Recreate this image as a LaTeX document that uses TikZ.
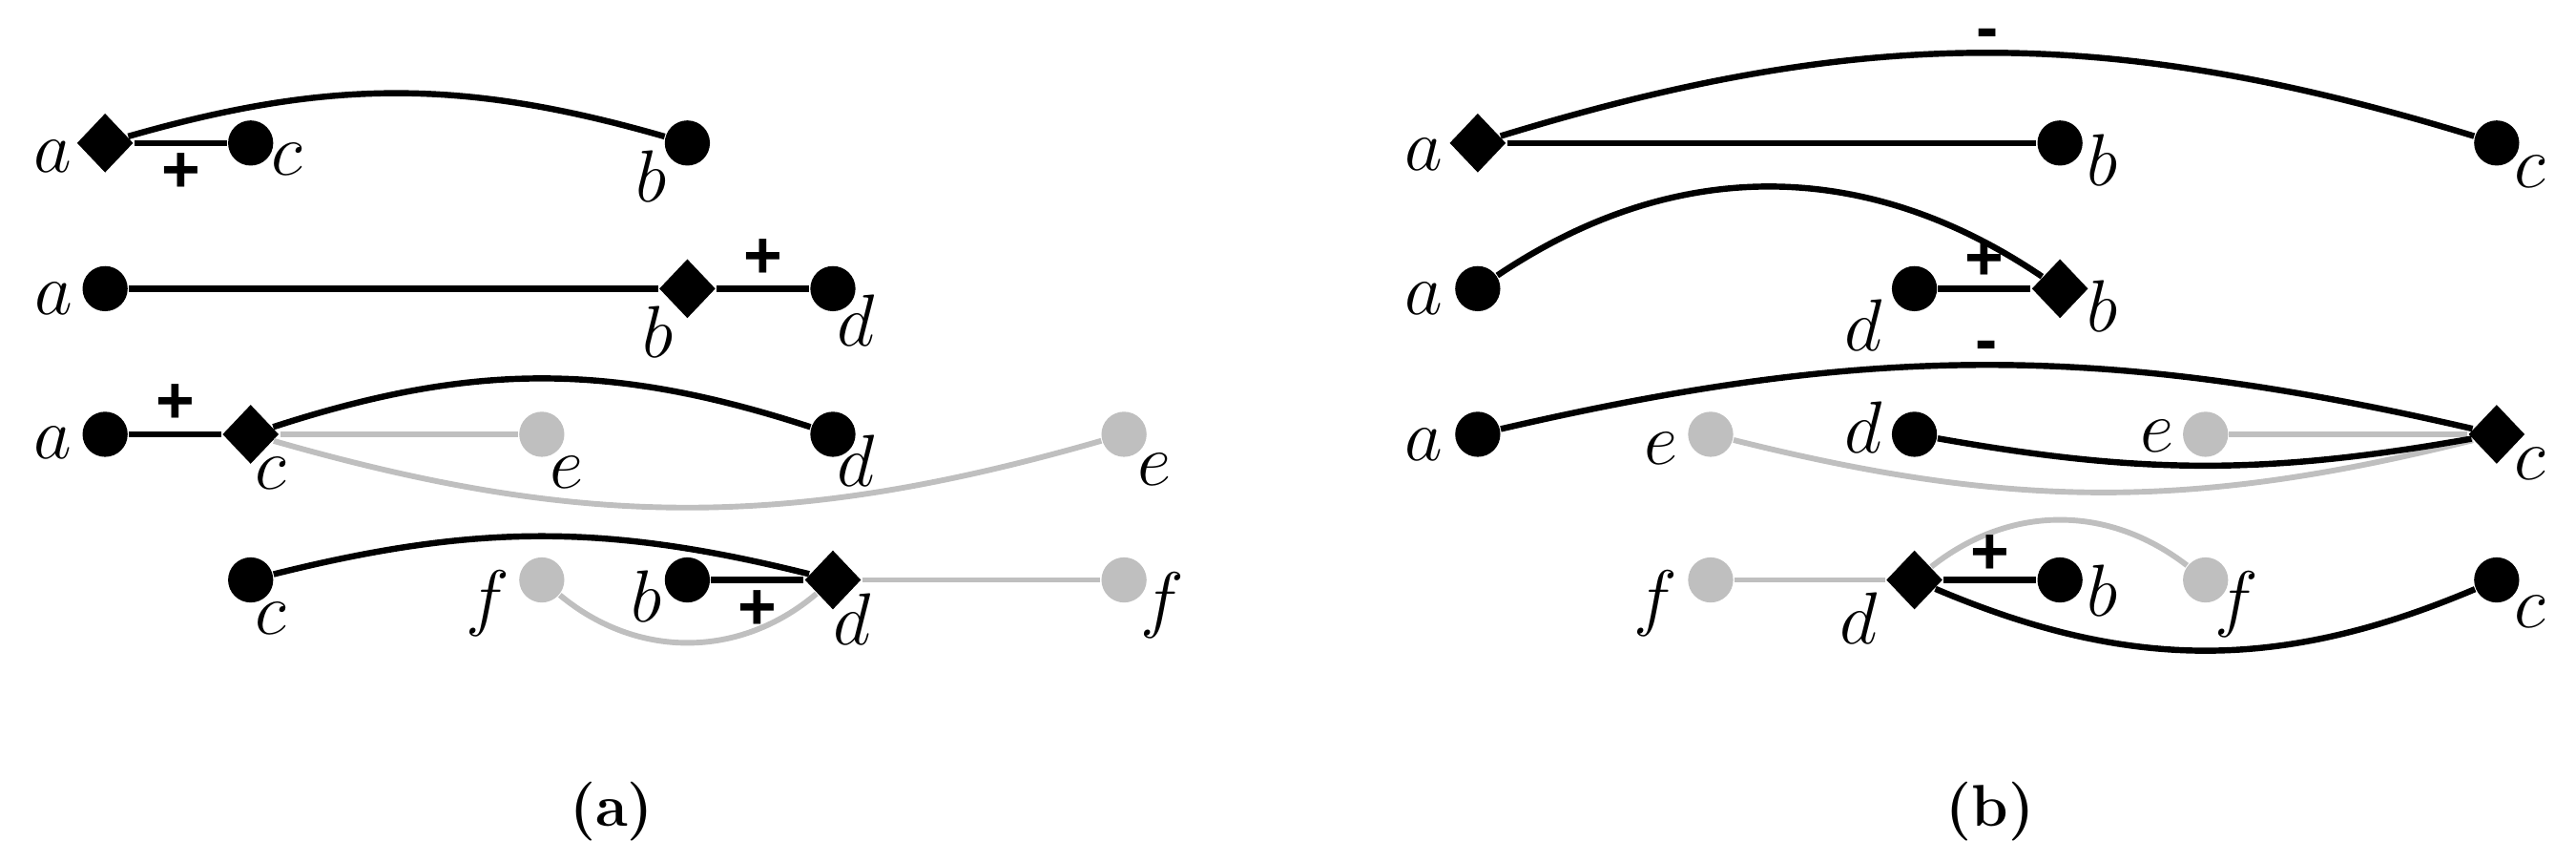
\documentclass[tikz,border=0pt]{standalone}
\usepackage{fontspec}
\newfontfamily\signfont{Liberation Sans}
\usetikzlibrary{shapes.geometric,calc}
\definecolor{ghost}{RGB}{191,191,191}
\tikzset{
  vtx/.style={circle,fill=black,inner sep=0pt,minimum size=0.31cm},
  gvtx/.style={vtx,fill=ghost},
  hub/.style={diamond,fill=black,inner sep=0pt,minimum width=0.39cm,minimum height=0.41cm},
  lab/.style={inner sep=0pt,font=\fontsize{15}{18}\selectfont},
  pm/.style={inner sep=0pt,font=\signfont\bfseries\fontsize{13}{15}\selectfont},
  link/.style={line width=1.2pt},
  glink/.style={line width=1.1pt,color=ghost},
}
% vertex: style, name, position, letter, label offset
\newcommand{\Vertex}[5]{\node[#1] (#2) at (#3) {}; \node[lab] (#2-t) at ($(#2)+(#5)$) {$#4$};}

\begin{document}
\begin{tikzpicture}
\useasboundingbox (-0.722,-4.932) rectangle (16.975,0.982);

% (a)
\Vertex{hub}{la1}{0,0}{a}{-0.36,-0.09}
\Vertex{vtx}{lc1}{1,0}{c}{0.25,-0.11}
\Vertex{vtx}{lb1}{4,0}{b}{-0.25,-0.23}

\Vertex{vtx}{la2}{0,-1}{a}{-0.35,-0.07}
\Vertex{hub}{lb2}{4,-1}{b}{-0.20,-0.30}
\Vertex{vtx}{ld2}{5,-1}{d}{0.16,-0.22}

\Vertex{vtx}{la3}{0,-2}{a}{-0.36,-0.06}
\Vertex{hub}{lc3}{1,-2}{c}{0.135,-0.27}
\Vertex{gvtx}{le3}{3,-2}{e}{0.17,-0.26}
\Vertex{vtx}{ld3}{5,-2}{d}{0.16,-0.18}
\Vertex{gvtx}{le3r}{7,-2}{e}{0.21,-0.24}

\Vertex{vtx}{lc4}{1,-3}{c}{0.135,-0.265}
\Vertex{gvtx}{lf4}{3,-3}{f}{-0.37,-0.16}
\Vertex{vtx}{lb4}{4,-3}{b}{-0.28,-0.11}
\Vertex{hub}{ld4}{5,-3}{d}{0.135,-0.27}
\Vertex{gvtx}{lf4r}{7,-3}{f}{0.265,-0.175}

\draw[link] (la1) -- node[pm,below=1.5pt]{+} (lc1);
\draw[link] (la1) to[bend left=16] (lb1);
\draw[link] (la2) -- (lb2) -- node[pm,above=1.5pt]{+} (ld2);
\draw[glink] (lc3) -- (le3);
\draw[glink] (lc3) to[bend right=16] (le3r);
\draw[link] (la3) -- node[pm,above=1.5pt]{+} (lc3);
\draw[link] (lc3) to[bend left=18] (ld3);
\draw[glink] (lf4) to[bend right=40] (ld4);
\draw[glink] (ld4) -- (lf4r);
\draw[link] (lc4) to[bend left=14] (ld4);
\draw[link] (lb4) -- node[pm,below=1.5pt]{+} (ld4);

\node (capa) at (3.48,-4.59) {\fontsize{11.5}{13}\selectfont\bfseries (a)};

% (b)
\begin{scope}[shift={(9.43,0)}]
\Vertex{hub}{ra1}{0,0}{a}{-0.37,-0.08}
\Vertex{vtx}{rb1}{4,0}{b}{0.29,-0.12}
\Vertex{vtx}{rc1}{7,0}{c}{0.23,-0.20}

\Vertex{vtx}{ra2}{0,-1}{a}{-0.37,-0.07}
\Vertex{vtx}{rd2}{3,-1}{d}{-0.35,-0.25}
\Vertex{hub}{rb2}{4,-1}{b}{0.29,-0.12}

\Vertex{vtx}{ra3}{0,-2}{a}{-0.37,-0.07}
\Vertex{gvtx}{re3}{1.6,-2}{e}{-0.34,-0.10}
\Vertex{vtx}{rd3}{3,-2}{d}{-0.35,0.045}
\Vertex{gvtx}{re3r}{5,-2}{e}{-0.33,-0.01}
\Vertex{hub}{rc3}{7,-2}{c}{0.23,-0.20}

\Vertex{gvtx}{rf4}{1.6,-3}{f}{-0.38,-0.16}
\Vertex{hub}{rd4}{3,-3}{d}{-0.38,-0.26}
\Vertex{vtx}{rb4}{4,-3}{b}{0.29,-0.076}
\Vertex{gvtx}{rf4r}{5,-3}{f}{0.21,-0.17}
\Vertex{vtx}{rc4}{7,-3}{c}{0.23,-0.22}

\draw[link] (ra1) -- (rb1);
\draw[link] (ra1) to[bend left=17] node[pm,above=0pt]{-} (rc1);
\draw[link] (ra2) to[bend left=34] (rb2);
\draw[link] (rd2) -- node[pm,above=1pt]{+} (rb2);
\draw[glink] (re3r) -- (rc3);
\draw[glink] (re3) to[bend right=14] (rc3);
\draw[link] (rd3) to[bend right=10] (rc3);
\draw[link] (ra3) to[bend left=13] node[pm,above=0pt]{-} (rc3);
\draw[glink] (rf4) -- (rd4);
\draw[glink] (rd4) to[bend left=38] (rf4r);
\draw[link] (rd4) -- node[pm,above=0.5pt]{+} (rb4);
\draw[link] (rd4) to[bend right=23] (rc4);

\node (capb) at (3.52,-4.59) {\fontsize{11.5}{13}\selectfont\bfseries (b)};
\end{scope}
\end{tikzpicture}
\end{document}
